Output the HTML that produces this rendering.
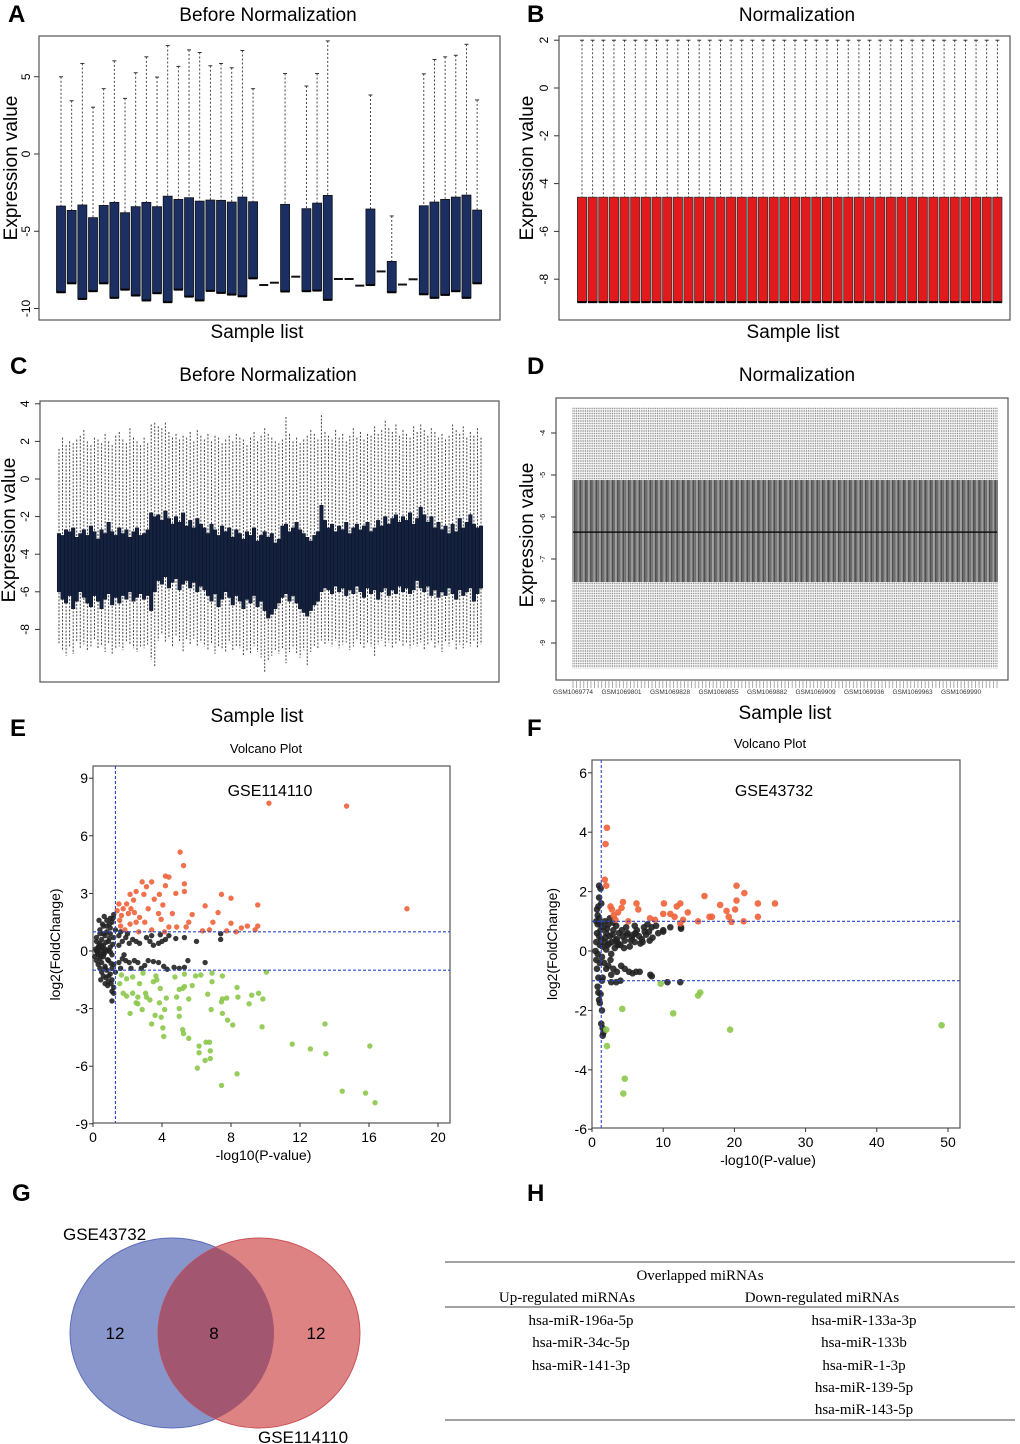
<!DOCTYPE html>
<html><head><meta charset="utf-8"><style>
html,body{margin:0;padding:0;background:#fff;}
svg{display:block;font-family:"Liberation Sans",Arial,sans-serif;}
</style></head><body>
<svg id="fig" width="1020" height="1444" viewBox="0 0 1020 1444" xmlns="http://www.w3.org/2000/svg">
<defs>
<clipPath id="clipBlue"><ellipse cx="172" cy="1333" rx="102" ry="95"/></clipPath>
</defs>
<g font-weight="bold" font-size="24" fill="#000">
<text x="8" y="22">A</text>
<text x="527" y="22">B</text>
<text x="10" y="374">C</text>
<text x="527" y="374">D</text>
<text x="10" y="736">E</text>
<text x="527" y="736">F</text>
<text x="12" y="1201">G</text>
<text x="527" y="1201">H</text>
</g>
<g font-size="19" text-anchor="middle">
<text x="268" y="21">Before Normalization</text>
<text x="797" y="21">Normalization</text>
<text x="268" y="381">Before Normalization</text>
<text x="797" y="381">Normalization</text>
<text x="257" y="338">Sample list</text>
<text x="793" y="338">Sample list</text>
<text x="257" y="722">Sample list</text>
<text x="785" y="719">Sample list</text>
<text transform="translate(17,168) rotate(-90)">Expression value</text>
<text transform="translate(533,168) rotate(-90)">Expression value</text>
<text transform="translate(15,530) rotate(-90)">Expression value</text>
<text transform="translate(533,535) rotate(-90)">Expression value</text>
</g>
<g id="gA"></g>
<g id="gB"></g>
<g id="gC"></g>
<g id="gD"></g>
<g id="gE"></g>
<g id="gF"></g>
<g id="gG">
<ellipse cx="172" cy="1333" rx="102" ry="95" fill="#8896cc" stroke="#5c6cb8" stroke-width="1"/>
<ellipse cx="259" cy="1333" rx="101" ry="95" fill="#dd8384" stroke="#cc5058" stroke-width="1"/>
<ellipse cx="259" cy="1333" rx="101" ry="95" fill="#a3566f" clip-path="url(#clipBlue)"/>
<g font-size="17" text-anchor="middle">
<text x="115" y="1339">12</text>
<text x="214" y="1339">8</text>
<text x="316" y="1339">12</text>
</g>
<text x="63" y="1240" font-size="17">GSE43732</text>
<text x="258" y="1443" font-size="17">GSE114110</text>
</g>
<g id="gH" font-family="'Liberation Serif',serif" font-size="15" text-anchor="middle">
<line x1="445" y1="1262" x2="1015" y2="1262" stroke="#444" stroke-width="1"/>
<line x1="445" y1="1307" x2="1015" y2="1307" stroke="#444" stroke-width="1"/>
<line x1="445" y1="1420" x2="1015" y2="1420" stroke="#444" stroke-width="1"/>
<text x="700" y="1280">Overlapped miRNAs</text>
<text x="567" y="1302">Up-regulated miRNAs</text>
<text x="822" y="1302">Down-regulated miRNAs</text>
<text x="581" y="1325">hsa-miR-196a-5p</text>
<text x="581" y="1347">hsa-miR-34c-5p</text>
<text x="581" y="1370">hsa-miR-141-3p</text>
<text x="864" y="1325">hsa-miR-133a-3p</text>
<text x="864" y="1347">hsa-miR-133b</text>
<text x="864" y="1370">hsa-miR-1-3p</text>
<text x="864" y="1392">hsa-miR-139-5p</text>
<text x="864" y="1414">hsa-miR-143-5p</text>
</g>
</svg>
<script>
// ---------- Panel A data ----------
const aQ3 = [-3.37,-3.65,-3.3,-4.12,-3.33,-3.13,-3.8,-3.41,-3.13,-3.41,-2.73,-2.94,-2.83,-3.05,-2.98,-3.0,-3.11,-2.79,-3.09,-8.48,-8.33,-3.26,-7.94,-3.54,-3.18,-2.68,-8.09,-8.09,-8.52,-3.56,-7.6,-6.95,-8.45,-8.11,-3.35,-3.11,-2.94,-2.79,-2.66,-3.63];
const aQ1 = [-8.95,-8.37,-9.38,-8.88,-8.37,-9.31,-8.78,-9.16,-9.48,-9.01,-9.59,-8.78,-9.23,-9.48,-8.86,-8.99,-9.1,-9.21,-8.05,-8.48,-8.33,-8.9,-7.94,-8.88,-8.84,-9.44,-8.09,-8.09,-8.52,-8.48,-7.6,-8.95,-8.45,-8.11,-9.08,-9.31,-9.12,-8.88,-9.31,-8.37];
const aWhi = [5.0,3.45,5.86,3.03,4.23,6.03,3.6,5.26,6.29,4.98,7.02,5.67,6.74,6.57,5.71,5.86,5.58,6.7,4.23,null,null,5.21,null,4.4,5.21,7.32,null,null,null,3.82,null,-4.01,null,null,5.19,6.12,6.29,6.39,7.1,3.5];
const aTicks = [5,0,-5,-10];
// ---------- Panel B data ----------
const bCount = 40;
const bQ3 = -4.57, bQ1 = -8.96, bWhi = 2.0;
const bTicks = [2,0,-2,-4,-6,-8];
// ---------- Panel C data ----------
const cQ3 = [-2.9,-3.0,-2.7,-2.8,-2.6,-3.1,-2.9,-2.7,-3.0,-2.5,-2.8,-3.2,-2.7,-2.9,-2.3,-2.8,-3.0,-2.6,-2.9,-2.7,-3.1,-2.8,-2.6,-3.0,-2.9,-2.7,
-1.8,-2.0,-1.9,-2.2,-1.7,-2.1,-2.4,-2.0,-2.3,-1.8,-2.5,-2.2,-2.6,-2.1,-2.4,
-2.6,-2.9,-2.4,-2.7,-3.0,-2.5,-2.8,-2.6,-3.1,-2.7,-2.9,-3.2,-2.8,-3.0,-2.6,-3.3,-3.0,-2.8,-3.1,-2.9,-3.4,-3.2,-2.5,-2.4,-2.8,
-2.6,-2.3,-2.7,-2.9,-3.1,-3.3,-3.0,-2.8,-1.4,-2.2,
-2.6,-2.4,-2.8,-2.5,-2.7,-2.3,-2.9,-2.6,-2.4,-2.7,-2.5,-2.3,-2.8,-2.6,-2.2,-2.5,-2.0,-2.4,-2.1,-1.9,-2.3,-2.0,-2.2,-1.8,-2.4,
-2.1,-1.5,-1.9,-2.3,-2.0,-2.6,-2.3,-2.7,-2.5,-2.9,-2.4,-2.8,-2.1,-2.6,-2.3,-1.9,-2.4,-2.6,-2.5];
const cQ1 = [-6.0,-6.4,-6.6,-6.2,-6.9,-6.5,-6.0,-6.3,-6.6,-6.8,-6.2,-6.5,-6.9,-6.4,-6.1,-6.7,-6.3,-6.6,-6.2,-6.4,-6.0,-6.5,-6.3,-6.1,-6.4,-6.2,
-7.0,-6.0,-5.4,-5.6,-5.2,-5.8,-5.5,-5.3,-5.9,-5.6,-5.4,-5.8,-5.5,-6.0,-5.7,
-5.9,-6.2,-6.5,-6.1,-6.8,-6.4,-6.0,-6.3,-6.7,-6.2,-6.5,-6.9,-6.4,-6.6,-6.2,-6.8,-6.5,-7.0,-7.4,-7.2,-6.9,-6.6,-6.3,-6.1,-6.5,
-6.2,-6.6,-6.9,-7.1,-7.3,-7.0,-6.7,-6.5,-6.0,-5.8,
-5.9,-6.1,-5.7,-6.0,-5.8,-6.2,-5.9,-6.1,-5.7,-6.0,-6.3,-5.8,-6.1,-5.9,-6.4,-6.0,-5.8,-6.2,-5.9,-6.1,-5.7,-6.0,-5.8,-6.1,-5.9,
-5.4,-5.8,-6.0,-5.7,-6.2,-5.9,-6.3,-6.0,-6.2,-5.8,-6.1,-6.4,-5.9,-6.2,-6.0,-5.8,-6.5,-6.1,-5.8];
const cWhi = [1.6,2.2,1.8,2.0,1.9,2.1,2.3,2.6,2.0,1.8,2.2,2.1,1.9,2.4,2.0,1.8,2.3,2.5,2.1,1.9,2.7,2.2,2.0,1.8,2.2,1.9,
2.9,3.0,2.8,2.7,3.0,2.5,2.2,2.4,2.1,2.3,2.2,2.5,2.0,2.6,2.3,
2.1,2.4,2.0,2.3,2.2,1.9,2.1,2.3,2.0,2.4,2.2,2.1,1.8,2.2,2.5,2.0,2.3,2.7,2.4,2.2,2.0,1.9,2.1,3.3,2.4,
2.0,2.2,1.9,2.1,2.3,2.6,2.4,2.1,3.4,2.5,
2.3,2.1,2.6,2.2,2.4,2.0,2.3,2.7,2.2,2.5,2.1,2.4,2.3,2.8,2.4,2.6,3.1,2.7,2.5,2.9,2.3,2.6,2.4,2.2,2.8,
2.5,2.9,2.6,2.3,2.7,2.5,2.2,2.4,2.1,2.3,2.9,2.6,2.4,2.8,2.2,2.5,2.3,2.7,2.2];
const cWlo = [-8.8,-9.1,-9.4,-8.9,-9.3,-8.7,-9.0,-8.8,-9.1,-8.9,-8.6,-9.0,-8.9,-9.2,-8.8,-9.3,-9.0,-8.9,-9.1,-8.7,-8.8,-9.0,-9.2,-8.9,-9.0,-8.8,
-9.6,-10.0,-8.6,-8.3,-8.7,-8.5,-8.9,-8.4,-8.7,-9.2,-8.6,-8.8,-8.5,-8.9,-8.7,
-8.9,-9.1,-8.8,-9.3,-8.9,-9.0,-9.2,-8.7,-9.1,-8.9,-9.0,-9.4,-9.1,-9.3,-8.9,-9.2,-9.5,-10.3,-9.7,-9.4,-9.1,-9.3,-9.0,-9.8,-9.2,
-9.0,-9.3,-9.5,-9.1,-9.9,-9.2,-8.9,-9.0,-8.6,-8.8,
-8.7,-8.9,-8.6,-9.0,-8.8,-8.7,-9.1,-8.9,-8.6,-8.8,-9.0,-8.7,-8.9,-9.4,-8.8,-8.6,-8.9,-8.7,-9.0,-8.8,-8.6,-8.9,-8.7,-9.0,-8.8,
-8.9,-8.7,-9.1,-8.8,-8.6,-9.0,-8.8,-9.2,-8.7,-8.9,-8.6,-9.1,-8.8,-9.0,-8.7,-8.9,-8.6,-9.0,-8.8];
const cTicks = [4,2,0,-2,-4,-6,-8];
// ---------- Panel D data ----------
const dCount = 237;
const dQ3 = -5.12, dQ1 = -7.55, dMed = -6.36, dWhi = -3.4, dWlo = -9.6;
const dTicks = [-4,-5,-6,-7,-8,-9];
const dSampleLabels = ["GSM1069774","GSM1069801","GSM1069828","GSM1069855","GSM1069882","GSM1069909","GSM1069936","GSM1069963","GSM1069990"];
// ---------- Panel E data ----------
const eRedX = [10.2,14.7,18.2,5.05,5.25,4.4,5.3,5.3,4.8,7.45,8.0,9.55,6.5,7.25,5.75,4.6,4.05,3.85,4.2,3.4,2.85,3.1,2.95,3.55,2.5,2.15,2.35,1.95,1.75,1.65,2.05,2.4,2.7,3.2,3.8,3.95,3.0,2.5,2.15,1.6,1.55,5.55,5.4,4.85,4.4,6.95,8.0,8.95,9.55,8.6,8.3,7.75,6.35,6.75,9.4,3.4,4.15,2.65,1.85,1.4,1.5,2.2,4.2];
const eRedY = [7.7,7.55,2.2,5.15,4.45,3.85,3.5,3.1,3.0,2.95,2.75,2.4,2.35,2.0,1.9,1.95,2.4,2.95,3.4,3.6,3.6,3.35,2.95,2.7,3.1,2.95,2.65,2.45,2.2,1.85,1.95,2.0,1.75,2.2,1.95,1.65,1.5,1.5,1.4,1.3,1.6,1.5,1.25,1.25,1.25,1.5,1.45,1.3,1.3,1.2,1.0,1.05,1.05,1.1,1.1,1.1,1.0,1.0,1.1,2.1,2.45,2.2,3.9];
const eGreenX = [10.05,8.35,9.6,9.85,9.2,8.4,9.05,7.75,7.5,7.45,7.5,7.8,8.1,9.8,6.85,6.65,5.55,5.75,5.3,5.2,5.0,4.85,5.0,5.0,5.2,5.25,5.55,6.15,6.15,6.5,6.8,6.8,6.75,6.55,6.05,7.45,8.35,11.55,12.6,13.45,13.5,16.05,14.45,15.8,16.35,4.05,4.1,3.4,3.6,3.95,4.15,3.85,4.25,3.9,3.65,3.5,2.85,2.5,2.15,1.95,1.75,1.55,1.65,1.95,2.3,2.7,2.9,3.05,2.3,2.6,3.1,3.3,4.75,5.3,5.95,6.25,6.9,7.5,6.9,2.6,3.7];
const eGreenY = [-1.1,-1.9,-2.2,-2.5,-2.3,-2.4,-2.75,-2.45,-2.5,-2.65,-3.25,-3.6,-3.85,-3.95,-3.05,-2.25,-2.5,-1.8,-1.85,-1.95,-2.0,-2.4,-3.0,-3.4,-4.1,-4.3,-4.55,-4.95,-5.3,-5.7,-5.6,-5.2,-4.75,-4.75,-6.1,-7.0,-6.4,-4.85,-5.1,-3.8,-5.35,-4.95,-7.3,-7.4,-7.9,-4.0,-4.45,-3.8,-3.35,-3.45,-3.05,-2.7,-2.45,-1.95,-1.3,-1.6,-3.05,-2.7,-3.25,-2.35,-2.2,-1.7,-1.25,-1.45,-1.35,-1.7,-1.15,-2.2,-2.2,-2.4,-2.4,-2.55,-1.35,-1.2,-1.3,-1.25,-1.6,-1.3,-1.15,-2.75,-1.5];
const eBlackX = [0.2,0.3,0.3,0.4,0.4,0.5,0.5,0.5,0.6,0.6,0.7,0.7,0.8,0.8,0.8,0.9,0.9,1.0,1.0,1.0,1.1,1.1,1.1,1.2,1.2,1.2,1.2,1.3,1.3,1.0,0.9,0.6,0.6,0.4,0.4,0.2,0.2,0.3,0.7,0.1,1.1,1.2,1.1,0.7,0.8,
1.5,1.7,1.9,2.1,2.3,2.5,2.7,3.1,3.3,3.5,3.8,4.0,4.2,4.4,4.8,5.3,6.0,7.4,7.4,3.9,3.4,1.5,1.7,1.9,2.1,2.4,2.6,3.0,3.2,3.5,3.8,4.1,4.7,5.0,5.3,5.5,6.5,1.6,2.2,2.8,4.3,1.5,1.8,1.6,2.0,0.5,0.6,0.3,0.9,1.0,
0.15,0.25,0.35,0.45,0.55,0.65,0.75,0.85,0.95,1.05,1.15,0.2,0.3,0.4,0.5,0.6,0.7,0.8,0.9,1.0,1.1,0.35,0.55,0.75,0.95,1.15,0.45,0.65,0.85,1.05];
const eBlackY = [0,0.2,-0.2,0.4,-0.4,0,0.6,-0.6,0.3,-0.3,0.8,-0.8,0,1.0,-1.0,0.5,-0.5,1.2,-1.2,0.2,1.5,-1.5,-0.2,0.7,-0.7,1.9,-1.9,1.1,-1.1,1.7,-1.6,1.3,-1.3,0.9,-0.9,0.5,-0.5,0.1,0.1,-0.3,-2.1,-2.2,-2.6,-1.7,1.6,
0.8,0.5,0.7,0.4,0.6,0.5,0.4,0.7,0.5,0.3,0.4,0.5,0.6,0.8,0.65,0.7,0.5,0.9,0.6,0.85,0.8,-0.6,-0.4,-0.5,-0.6,-0.5,-0.6,-0.75,-0.5,-0.55,-0.6,-0.8,-0.85,-0.9,-0.85,-0.5,-0.6,-0.9,-0.9,-0.9,-0.95,0.3,-0.2,1.0,0.9,0.25,-0.15,-0.1,0.05,-0.05,
0.1,-0.1,0.3,-0.3,0.15,-0.15,0.45,-0.45,0.65,-0.65,0.35,0.7,-0.7,1.1,-1.1,0.9,-0.9,1.3,-1.3,0.9,-0.9,1.6,1.4,-1.4,1.4,1.7,-1.5,1.8,-1.8,-1.7];
const eXTicks = [0,4,8,12,16,20];
const eYTicks = [9,6,3,0,-3,-6,-9];
// ---------- Panel F data ----------
const fRedX = [2.1,1.9,1.8,2.0,20.3,21.4,15.8,25.7,23.3,20.3,18.0,10.1,12.4,11.9,6.25,4.35,4.15,2.6,2.8,3.65,6.5,13.45,11.0,10.0,18.9,20.1,23.3,19.2,16.85,16.5,11.6,12.8,5.1,8.15,8.85,14.9,19.6,21.3,12.4,3.3,3.05];
const fRedY = [4.15,3.6,2.4,2.2,2.2,1.95,1.85,1.6,1.6,1.7,1.55,1.6,1.6,1.5,1.6,1.65,1.45,1.5,1.4,1.3,1.4,1.3,1.25,1.25,1.35,1.4,1.15,1.15,1.15,1.15,1.15,1.05,1.0,1.1,1.05,1.0,0.98,1.0,0.93,1.05,1.2];
const fGreenX = [49.1,19.4,15.2,14.9,11.4,9.65,4.25,4.6,4.4,2.1,2.0];
const fGreenY = [-2.5,-2.65,-1.4,-1.5,-2.1,-1.1,-1.95,-4.3,-4.8,-3.2,-2.65];
const fBlackX = [0.5,0.6,0.6,0.7,0.7,0.8,0.8,0.9,1.0,1.0,1.2,0.7,0.9,0.8,1.0,1.1,1.1,1.2,1.3,1.3,1.4,0.9,1.0,1.1,1.4,1.3,1.5,1.5,1.6,1.2,
1.8,2,2.2,2.5,2.8,3,3.2,3.5,3.8,4,4.3,4.6,5,5.3,5.6,6,6.3,6.6,7,7.3,7.6,8,8.4,8.5,9,10,10,11,12.5,12.5,2.3,3.4,4.8,6,7.8,1.8,2.5,3,1.6,2,2.7,4.5,
1.7,2,2.3,2.7,3,3.5,4,4.6,5.2,5.7,6.2,6.7,8.2,8.4,10.6,12.4,3.4,2.7,1.5,2.6,4.1,1.0,0.8,1.2,0.6,1.4,
1.9,2.4,2.9,3.3,3.7,4.2,4.9,5.5,6.1,6.8,7.4,8.1,9.3,1.5,2.1,3.6,5.8,7.1];
const fBlackY = [0,0.3,-0.3,0.6,-0.6,0.9,1.2,1.5,1.8,2.2,2.1,1.4,-0.9,-1.2,1.1,0.2,-0.4,0.7,1.6,0.4,-0.2,-1.4,-1.65,-1.75,-2.0,-2.45,-2.6,-2.85,-2.75,-1.45,
0.3,0.6,0.2,0.5,0.3,0.7,0.1,0.4,0.6,0.2,0.5,0.35,0.6,0.15,0.45,0.3,0.7,0.5,0.4,0.8,0.55,0.65,0.8,0.45,0.85,0.7,0.65,0.8,0.8,0.75,0.9,0.85,0.8,0.85,0.9,1.0,1.1,0.95,0.8,0.05,-0.1,0.1,
-0.4,-0.6,-0.5,-0.8,-0.6,-0.7,-1.0,-0.6,-0.7,-0.75,-0.7,-0.7,-0.8,-0.85,-1.05,-1.05,-1.05,-1.05,-0.9,-0.3,-0.5,0.5,-0.1,0.9,1.0,-1.0,
0.45,0.25,0.55,0.35,0.25,0.7,0.55,0.35,0.6,0.25,0.65,0.35,0.6,0.15,0.75,0.2,0.55,0.3];
const fXTicks = [0,10,20,30,40,50];
const fYTicks = [6,4,2,0,-2,-4,-6];

const NS = "http://www.w3.org/2000/svg";
function mk(tag, attrs, parent){
  const e = document.createElementNS(NS, tag);
  for (const k in attrs) e.setAttribute(k, attrs[k]);
  parent.appendChild(e);
  return e;
}
function frame(g, x, y, w, h, name){
  const r = mk('rect', {x:x, y:y, width:w, height:h, fill:'none', stroke:'#555', 'stroke-width':1.2}, g);
  
  
}
function rTicks(g, ticks, yf, axX, labX, fs, name){
  ticks.forEach(t => {
    const y = yf(t);
    const l = mk('line', {x1:axX-5, y1:y, x2:axX, y2:y, stroke:'#333', 'stroke-width':1}, g);
    
    
    const tx = mk('text', {transform:`translate(${labX},${y}) rotate(-90)`, 'text-anchor':'middle', 'font-size':fs}, g);
    tx.textContent = String(t);
    
    
  });
}

// ---------- A ----------
(function(){
  const g = document.getElementById('gA');
  const yA = v => 154 - v*15.45;
  const xA = i => 61 + i*10.67;
  frame(g, 39, 36, 461, 284, 'plot-frame-a');
  rTicks(g, aTicks, yA, 39, 30, 12, 'y-axis-a');
  aQ3.forEach((q3, i) => {
    const x = xA(i);
    if (aWhi[i] !== null) {
      const w = mk('line', {x1:x, y1:yA(aWhi[i]), x2:x, y2:yA(q3), stroke:'#333', 'stroke-dasharray':'2,2', 'stroke-width':0.9}, g);
      
      
      const c = mk('line', {x1:x-2, y1:yA(aWhi[i]), x2:x+2, y2:yA(aWhi[i]), stroke:'#333', 'stroke-width':1}, g);
      
      
    }
    if (Math.abs(q3 - aQ1[i]) < 0.01) {
      const f = mk('line', {x1:x-4.5, y1:yA(q3), x2:x+4.5, y2:yA(q3), stroke:'#111', 'stroke-width':2}, g);
      
      
    } else {
      const b = mk('rect', {x:x-4.5, y:yA(q3), width:9, height:yA(aQ1[i])-yA(q3), fill:'#1b2f63', stroke:'#111', 'stroke-width':0.8}, g);
      
      
      const m = mk('line', {x1:x-4.5, y1:yA(aQ1[i]), x2:x+4.5, y2:yA(aQ1[i]), stroke:'#000', 'stroke-width':2}, g);
      
      
    }
  });
})();

// ---------- B ----------
(function(){
  const g = document.getElementById('gB');
  const yB = v => 88 - v*23.9;
  const xB = i => 582 + i*10.65;
  frame(g, 559, 36, 451, 284, 'plot-frame-b');
  rTicks(g, bTicks, yB, 559, 548, 12, 'y-axis-b');
  for (let i = 0; i < bCount; i++) {
    const x = xB(i);
    const w = mk('line', {x1:x, y1:yB(bWhi), x2:x, y2:yB(bQ3), stroke:'#333', 'stroke-dasharray':'2,2', 'stroke-width':0.9}, g);
    
    
    const c = mk('line', {x1:x-2, y1:yB(bWhi), x2:x+2, y2:yB(bWhi), stroke:'#333', 'stroke-width':1}, g);
    
    
    const b = mk('rect', {x:x-4.6, y:yB(bQ3), width:9.2, height:yB(bQ1)-yB(bQ3), fill:'#e31a1c', stroke:'#333', 'stroke-width':0.8}, g);
    
    
    const m = mk('line', {x1:x-4.6, y1:yB(bQ1), x2:x+4.6, y2:yB(bQ1), stroke:'#000', 'stroke-width':2}, g);
    
    
  }
})();

// ---------- C ----------
(function(){
  const g = document.getElementById('gC');
  const yC = v => 479 - v*18.8;
  const n = cQ3.length;
  const xC = i => 59 + i*(422/(n-1));
  frame(g, 40, 401, 459, 281, 'plot-frame-c');
  rTicks(g, cTicks, yC, 40, 29, 12, 'y-axis-c');
  const bw = 422/(n-1);
  cQ3.forEach((q3, i) => {
    const x = xC(i);
    const w = mk('line', {x1:x, y1:yC(cWhi[i]), x2:x, y2:yC(cWlo[i]), stroke:'#444', 'stroke-dasharray':'2,1.5', 'stroke-width':1}, g);
    
    
  });
  cQ3.forEach((q3, i) => {
    const x = xC(i);
    const b = mk('rect', {x:x-bw/2, y:yC(q3), width:bw, height:yC(cQ1[i])-yC(q3), fill:'#14213f', stroke:'#0a1020', 'stroke-width':0.5}, g);
    
    
  });
})();

// ---------- D ----------
(function(){
  const g = document.getElementById('gD');
  const yD = v => 433 - (v + 4)*42;
  const x0 = 573, x1 = 997;
  const xD = i => x0 + i*(x1-x0)/(dCount-1);
  const bw = (x1-x0)/(dCount-1);
  frame(g, 556, 398, 452, 282, 'plot-frame-d');
  rTicks(g, dTicks, yD, 556, 545, 7, 'y-axis-d');
  for (let i = 0; i < dCount; i++) {
    const x = xD(i);
    const w = mk('line', {x1:x, y1:yD(dWhi), x2:x, y2:yD(dWlo), stroke:'#888', 'stroke-dasharray':'1.5,1', 'stroke-width':1}, g);
    
    
  }
  for (let i = 0; i < dCount; i++) {
    const x = xD(i);
    const shade = (i % 3 === 0) ? '#9a9a9a' : (i % 3 === 1 ? '#4e4e4e' : '#6e6e6e');
    const b = mk('rect', {x:x-bw/2, y:yD(dQ3), width:bw, height:yD(dQ1)-yD(dQ3), fill:shade, stroke:'none'}, g);
    
    
  }
  const m = mk('line', {x1:x0, y1:yD(dMed), x2:x1, y2:yD(dMed), stroke:'#111', 'stroke-width':1.5}, g);
  
  
  for (let i = 0; i < dCount; i += 2) {
    const t = mk('line', {x1:xD(i), y1:681, x2:xD(i), y2:688, stroke:'#999', 'stroke-width':0.8}, g);
    
    
  }
  dSampleLabels.forEach((lab, k) => {
    const t = mk('text', {x:xD(k*27), y:694, 'text-anchor':'middle', 'font-size':6.5, fill:'#333'}, g);
    t.textContent = lab;
    
    
  });
})();

// ---------- Volcano helper ----------
function volcano(g, cfg){
  const xs = v => cfg.x0 + v*cfg.xs;
  const ys = v => cfg.y0 - v*cfg.ys;
  const t = mk('text', {x:cfg.titleX, y:cfg.titleY, 'text-anchor':'middle', 'font-size':13}, g);
  t.textContent = 'Volcano Plot';
  
  
  const gse = mk('text', {x:cfg.titleX+4, y:cfg.gseY, 'text-anchor':'middle', 'font-size':16}, g);
  gse.textContent = cfg.gse;
  
  
  frame(g, cfg.bx, cfg.by, cfg.bw, cfg.bh, 'plot-frame');
  cfg.xt.forEach(v => {
    const x = xs(v);
    const l = mk('line', {x1:x, y1:cfg.by+cfg.bh, x2:x, y2:cfg.by+cfg.bh+4, stroke:'#333'}, g);
    
    
    const tx = mk('text', {x:x, y:cfg.by+cfg.bh+19, 'text-anchor':'middle', 'font-size':14}, g);
    tx.textContent = String(v);
    
    
  });
  cfg.yt.forEach(v => {
    const y = ys(v);
    const l = mk('line', {x1:cfg.bx-4, y1:y, x2:cfg.bx, y2:y, stroke:'#333'}, g);
    
    
    const tx = mk('text', {x:cfg.bx-5, y:y+5, 'text-anchor':'end', 'font-size':14}, g);
    tx.textContent = String(v);
    
    
  });
  const xl = mk('text', {x:cfg.bx+cfg.bw/2-8, y:cfg.by+cfg.bh+37, 'text-anchor':'middle', 'font-size':14}, g);
  xl.textContent = '-log10(P-value)';
  
  
  const yl = mk('text', {transform:`translate(${cfg.ylX},${cfg.by+cfg.bh/2}) rotate(-90)`, 'text-anchor':'middle', 'font-size':14}, g);
  yl.textContent = 'log2(FoldChange)';
  
  
  const draw = (X, Y, col, name) => {
    X.forEach((xv, i) => {
      const c = mk('circle', {cx:xs(xv), cy:ys(Y[i]), r:cfg.r, fill:col, 'fill-opacity':0.9}, g);
      
      
    });
  };
  draw(cfg.bX, cfg.bY, '#222', 'point-not-significant');
  draw(cfg.rX, cfg.rY, '#f0623a', 'point-up-regulated');
  draw(cfg.gX, cfg.gY, '#8cc84b', 'point-down-regulated');
  const th = [[xs(1.3), cfg.by, xs(1.3), cfg.by+cfg.bh], [cfg.bx, ys(1), cfg.bx+cfg.bw, ys(1)], [cfg.bx, ys(-1), cfg.bx+cfg.bw, ys(-1)]];
  th.forEach(p => {
    const l = mk('line', {x1:p[0], y1:p[1], x2:p[2], y2:p[3], stroke:'#2a48c8', 'stroke-dasharray':'3,2', 'stroke-width':1.1}, g);
    
    
  });
}
volcano(document.getElementById('gE'), {x0:93, xs:17.25, y0:951, ys:19.2, bx:93, by:766, bw:357, bh:357,
  titleX:266, titleY:753, gse:'GSE114110', gseY:796, ylX:60, r:2.7,
  xt:eXTicks, yt:eYTicks, rX:eRedX, rY:eRedY, gX:eGreenX, gY:eGreenY, bX:eBlackX, bY:eBlackY});
volcano(document.getElementById('gF'), {x0:592, xs:7.12, y0:951, ys:29.7, bx:592, by:760, bw:368, bh:368,
  titleX:770, titleY:748, gse:'GSE43732', gseY:796, ylX:557, r:3.3,
  xt:fXTicks, yt:fYTicks, rX:fRedX, rY:fRedY, gX:fGreenX, gY:fGreenY, bX:fBlackX, bY:fBlackY});
</script>
</body></html>
